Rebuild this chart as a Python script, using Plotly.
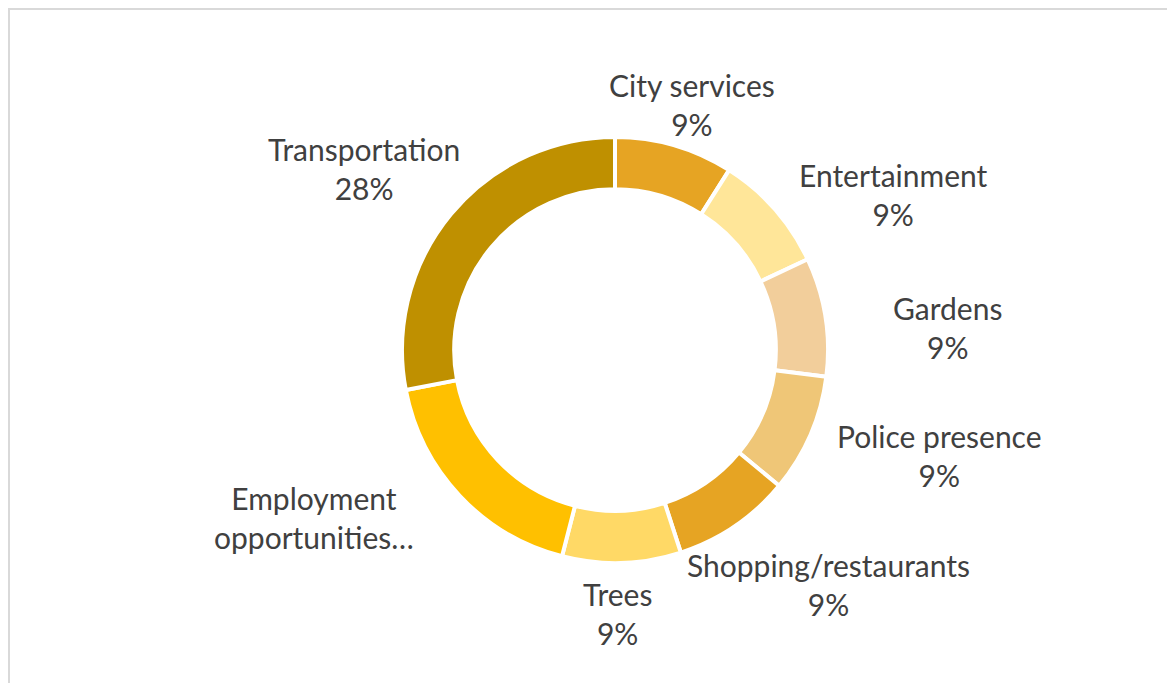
import plotly.graph_objects as go

# slices in clockwise order, starting at 12 o'clock
categories = ["City services", "Entertainment", "Gardens", "Police presence",
              "Shopping/restaurants", "Trees", "Employment opportunities",
              "Transportation"]
shares = [9, 9, 9, 9, 9, 9, 18, 28]
slice_colors = ["#E6A423", "#FFE699", "#F2CE9B", "#EFC677",
                "#E6A423", "#FFD966", "#FFC000", "#BF9000"]

# the page body has an 8px margin, so the figure is a little smaller than the window
W, H = 1167, 675
cx, cy, R = 607, 342, 213      # ring centre and outer radius, px

# label block centres relative to the ring centre (px), as laid out in the source chart
label_offsets = [(77, -245), (278, -156), (332, -23), (324, 105),
                 (213, 234), (2, 263), (-301, 167), (-251, -182)]

fig = go.Figure(go.Pie(
    labels=categories,
    values=shares,
    sort=False,
    direction="clockwise",
    rotation=0,
    hole=0.755,
    textinfo="none",
    marker=dict(colors=slice_colors, line=dict(color="white", width=4)),
    domain=dict(x=[(cx - R) / W, (cx + R) / W],
                y=[1 - (cy + R) / H, 1 - (cy - R) / H]),
    showlegend=False,
))

total = sum(shares)
for name, v, (dx, dy) in zip(categories, shares, label_offsets):
    if name == "Employment opportunities":
        txt = "Employment<br>opportunities…"
    else:
        txt = f"{name}<br>{round(v / total * 100)}%"
    fig.add_annotation(
        text=txt, xref="paper", yref="paper",
        x=(cx + dx) / W, y=1 - (cy + dy) / H,
        xanchor="center", yanchor="middle", showarrow=False,
        font=dict(family="Lato", size=30, color="#404040"),
    )

# light grey chart-area border (right and bottom edges fall outside the view)
fig.add_shape(type="rect", xref="paper", yref="paper",
              x0=1 / W, y0=-0.05, x1=1.05, y1=1 - 1 / H,
              line=dict(color="#D9D9D9", width=2))

fig.update_layout(
    width=W, height=H,
    margin=dict(l=0, r=0, t=0, b=0),
    paper_bgcolor="white",
    plot_bgcolor="white",
)

fig.write_html("out.html")
